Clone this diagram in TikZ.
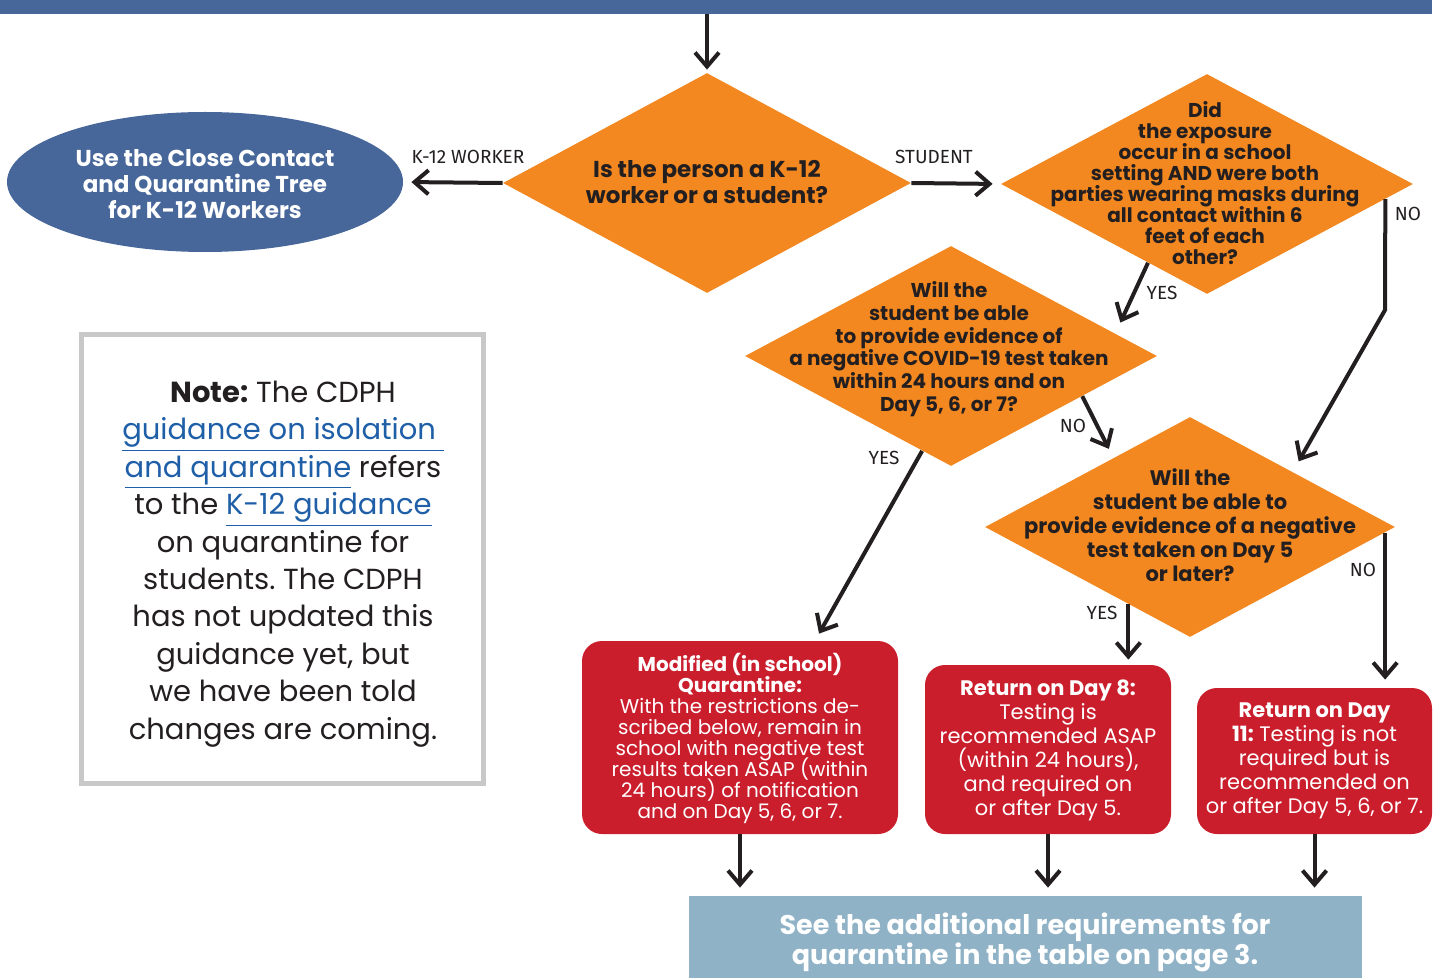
\documentclass[tikz,border=0pt]{standalone}
\usepackage{fontspec}
\setmainfont{Poppins}
\newfontfamily\lblfont{Fira Sans}
\usetikzlibrary{shapes.geometric,arrows.meta,calc}
\frenchspacing
\lineskiplimit=-20pt
\definecolor{barblue}{HTML}{47669A}
\definecolor{dorange}{HTML}{F38821}
\definecolor{boxred}{HTML}{CA1E2D}
\definecolor{lightblue}{HTML}{8FB2C6}
\definecolor{ink}{HTML}{231F20}
\definecolor{linkblue}{HTML}{1F5FA8}
\definecolor{notegray}{HTML}{C8C8C8}
\tikzset{
  dia/.style={diamond,fill=dorange,draw=none,inner sep=0pt,minimum width=#1},
  dtext/.style={align=center,text=ink,font=\bfseries},
  redbox/.style={rounded corners=10pt,fill=boxred,draw=none},
  rtext/.style={align=center,text=white},
  conn/.style={draw=ink,line width=2pt,-{Straight Barb[length=7pt,width=12pt,line width=2pt]}},
  lbl/.style={text=ink,font=\lblfont\fontsize{9.5}{11}\selectfont,inner sep=0pt},
}
\begin{document}
\begin{tikzpicture}[x=0.5pt,y=-0.5pt]
\useasboundingbox (0,0) rectangle (1439,978);
% top bar
\fill[barblue] (0,0) rectangle (1432,14);
\coordinate (topin) at (707,14);
% diamonds
\node[dia=204pt,minimum height=110pt] (d1) at (707,183) {};
\node[dia=206pt,minimum height=110pt] (d2) at (1207,184) {};
\node[dia=206pt,minimum height=110pt] (d3) at (951,356) {};
\node[dia=205pt,minimum height=110pt] (d4) at (1190,527) {};
% ellipse
\node[ellipse,fill=barblue,minimum width=198pt,minimum height=70pt,inner sep=0pt] (ell) at (205,182) {};
\node[rtext,font=\bfseries\fontsize{11.5}{13}\selectfont] (ellt) at (205,184) {Use the Close Contact\\and Quarantine Tree\\for K-12 Workers};
% diamond texts
\node[dtext,font=\bfseries\fontsize{11.5}{13}\selectfont] (d1t) at (707,182) {Is the person a K-12\\worker or a student?};
\node[dtext,font=\bfseries\fontsize{10}{10.5}\selectfont] (d2t) at (1205,183) {Did\\the exposure\\occur in a school\\setting AND were both\\parties wearing masks during\\all contact within 6\\feet of each\\other?};
\node[dtext,font=\bfseries\fontsize{10}{11.35}\selectfont] (d3t) at (949,349) {Will the\\student be able\\to provide evidence of\\a negative COVID-19 test taken\\within 24 hours and on\\Day 5, 6, or 7?};
\node[dtext,font=\bfseries\fontsize{10.5}{12}\selectfont] (d4t) at (1190,525) {Will the\\student be able to\\provide evidence of a negative\\test taken on Day 5\\or later?};
% red boxes
\node[redbox,minimum width=158pt,minimum height=96.5pt] (b1) at (740,737.5) {};
\node[redbox,minimum width=123pt,minimum height=84.5pt] (b2) at (1048,749.5) {};
\node[redbox,minimum width=117.5pt,minimum height=73pt] (b3) at (1314.5,761) {};
\node[rtext,font=\fontsize{10}{10.5}\selectfont] (b1t) at (740,738) {\textbf{Modified (in school)}\\\textbf{Quarantine:}\\With the restrictions de-\\scribed below, remain in\\school with negative test\\results taken ASAP (within\\24 hours) of notification\\and on Day 5, 6, or 7.};
\node[rtext,font=\fontsize{10.5}{12}\selectfont] (b2t) at (1048,750) {\textbf{Return on Day 8:}\\Testing is\\recommended ASAP\\(within 24 hours),\\and required on\\or after Day 5.};
\node[rtext,font=\fontsize{10.5}{12}\selectfont] (b3t) at (1314.5,761) {\textbf{Return on Day}\\\textbf{11:} Testing is not\\required but is\\recommended on\\or after Day 5, 6, or 7.};
% bottom box
\fill[lightblue] (689,896) rectangle (1362,978);
\node[inner sep=0pt,minimum width=336.5pt,minimum height=41pt] (bot) at (1025.5,937) {};
\node[rtext,font=\bfseries\fontsize{13.5}{15}\selectfont] (bott) at (1025,942) {See the additional requirements for\\quarantine in the table on page 3.};
% note box
\node[draw=notegray,line width=2.5pt,fill=white,minimum width=201pt,minimum height=224pt,inner sep=0pt] (note) at (282.5,559) {};
\node[align=center,text=ink,font=\fontsize{14.5}{18.7}\selectfont] (notet) at (283,564) {\textbf{Note:} The CDPH\\\textcolor{linkblue}{\underline{guidance on isolation }}\\\textcolor{linkblue}{\underline{and quarantine}} refers\\to the \textcolor{linkblue}{\underline{K-12 guidance}}\\on quarantine for\\students. The CDPH\\has not updated this\\guidance yet, but\\we have been told\\changes are coming.};
% connectors
\draw[conn,shorten >=1.5pt] (topin) -- (d1.north);
\draw[conn,shorten >=4pt] (d1.west) -- (ell.east);
\draw[conn,shorten >=4pt] (d1.east) -- (d2.west);
\coordinate (d2no) at ($(d2.east)!0.136!(d2.south)$);
\coordinate (d2nobend) at (1385,310);
\draw[conn,shorten >=6pt] (d2no) -- (d2nobend) -- ($(d4.north)!0.5!(d4.east)$);
\draw[conn,shorten >=6pt] ($(d2.south)!0.286!(d2.west)$) -- ($(d3.north)!0.796!(d3.east)$);
\draw[conn,shorten >=5pt] ($(d3.east)!0.364!(d3.south)$) -- ($(d4.north)!0.373!(d4.west)$);
\draw[conn,shorten >=4pt] ($(d3.south)!0.14!(d3.west)$) -- ($(b1.north west)!0.737!(b1.north east)$);
\coordinate (d4yes) at ($(d4.south)!0.3!(d4.west)$);
\draw[conn,shorten >=2.5pt] (d4yes) -- (d4yes |- b2.north);
\coordinate (d4no) at ($(d4.east)!0.05!(d4.south)$);
\draw[conn,shorten >=4pt] (d4no) -- (d4no |- b3.north);
\draw[conn,shorten >=4pt] (b1.south) -- (b1.south |- bot.north);
\draw[conn,shorten >=4pt] (b2.south) -- (b2.south |- bot.north);
\draw[conn,shorten >=4pt] (b3.south) -- (b3.south |- bot.north);
% labels
\node[lbl] at (468,157) {K-12 WORKER};
\node[lbl] at (934,157) {STUDENT};
\node[lbl] at (1408,214) {NO};
\node[lbl] at (1162,293) {YES};
\node[lbl] at (1073,426) {NO};
\node[lbl] at (884,458) {YES};
\node[lbl] at (1102,613) {YES};
\node[lbl] at (1363,570) {NO};
\end{tikzpicture}
\end{document}
